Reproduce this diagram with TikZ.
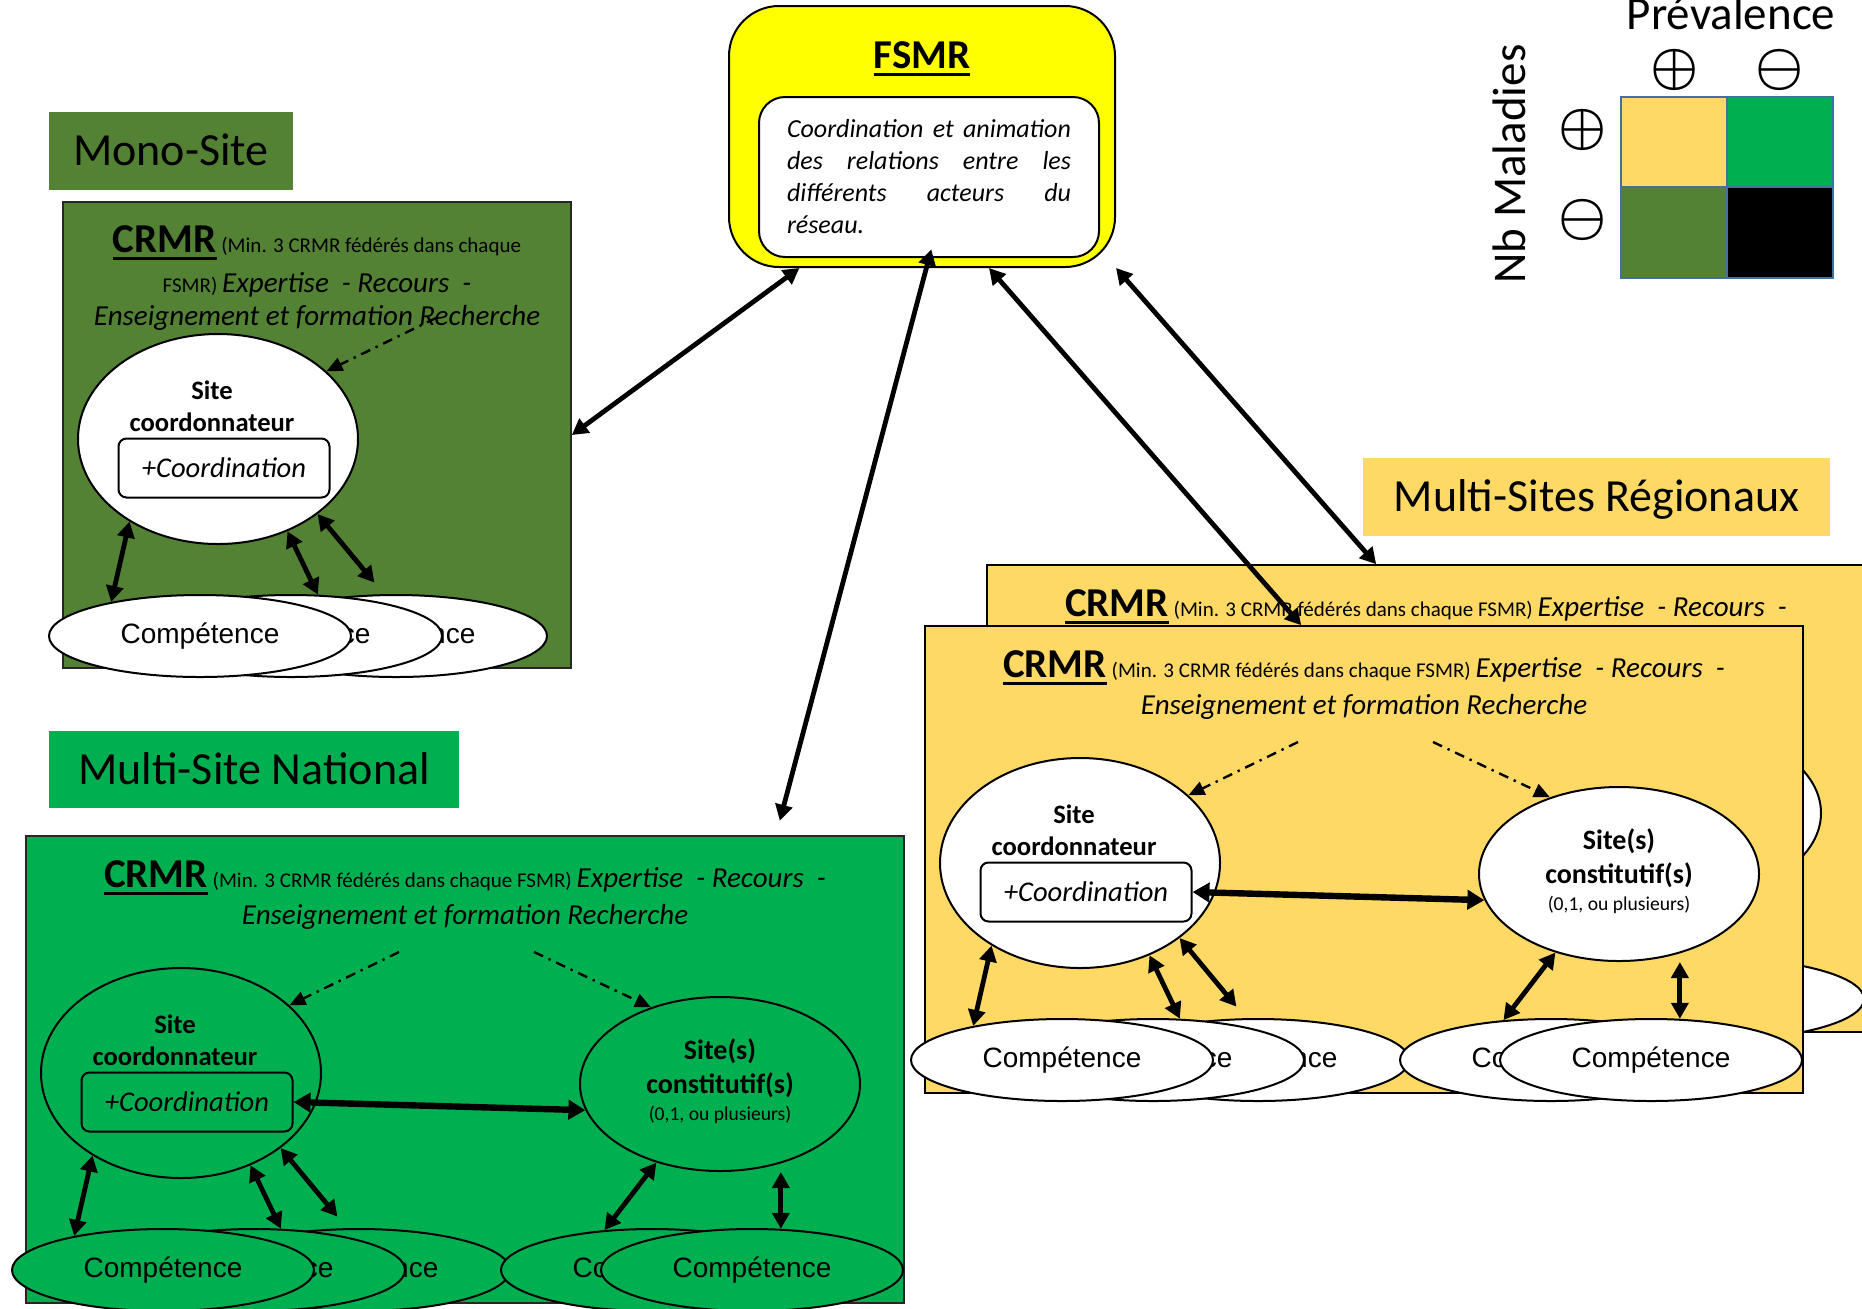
\RequirePackage{fix-cm}
\documentclass[tikz,border=0pt]{standalone}
\usepackage{fontspec}
\setmainfont{Carlito}
\newfontfamily\arialfont{Liberation Sans}
\usetikzlibrary{shapes.geometric,arrows.meta}
\definecolor{olive}{HTML}{548235}
\definecolor{natgreen}{HTML}{00B050}
\definecolor{gold}{HTML}{FFD966}
\definecolor{fsmryellow}{HTML}{FFFF00}
\definecolor{legendblue}{HTML}{41719C}

\newcommand\crmrfont{\fontsize{20.5}{24}\selectfont\bfseries}
\newcommand\minfont{\fontsize{10.5}{12}\selectfont}
\newcommand\expfont{\fontsize{14.5}{17}\selectfont\itshape}
\newcommand\legendfont{\fontsize{23.5}{28}\selectfont}
\newcommand\signfont{\fontsize{27}{30}\selectfont\boldmath}
\newsavebox\ulbox
\newcommand\thickul[1]{\sbox\ulbox{#1}\rlap{\rule[-0.19em]{\wd\ulbox}{0.075em}}\usebox\ulbox}

% left half of a CRMR panel: coordinating site and its competences
\newcommand\coordside[1]{%
  \node[site,fill=#1] (co) at (155,237) {};
  \node[sitetxt] (co-l1) at (149,197) {Site};
  \node[sitetxt] (co-l2) at (149,229) {coordonnateur};
  \node[coordbox,fill=#1] (cobox) at (161,266) {+Coordination};
  \node[comp,fill=#1] (k3) at (333,434) {Compétence};
  \node[comp,fill=#1] (k2) at (228,434) {Compétence};
  \node[comp,fill=#1] (k1) at (137,434) {Compétence};
  \draw[dbl] (co.223) -- (k1.159);
  \draw[dbl] (co.307) -- (k2.57);
  \draw[dbl,shorten >=7.5pt] (co.323) -- (k3.106);
  \coordinate (dd1) at (373,116);
  \draw[dashdot] (dd1) -- (co.32);
}
% right half: constituent sites
\newcommand\constside[1]{%
  \node[site,minimum height=87pt,fill=#1] (cs) at (694,248) {};
  \node[sitetxt,font=\fontsize{14}{16}\selectfont\bfseries] (cs-l1) at (694,223) {Site(s)};
  \node[sitetxt,font=\fontsize{14}{16}\selectfont\bfseries] (cs-l2) at (694,257) {constitutif(s)};
  \node[anchor=base,font=\fontsize{9.8}{12}\selectfont] (cs-l3) at (694,284) {(0,1, ou plusieurs)};
  \node[comp,fill=#1] (k4) at (626,434) {Compétence};
  \node[comp,fill=#1] (k5) at (726,434) {Compétence};
  \draw[dbl] (cs.231) -- (k4.140);
  \draw[dbl] (k5.55 |- cs.south) -- (k5.55);
  \draw[bigdbl] (cobox.east) -- (cs.191);
  \coordinate (dd2) at (508,116);
  \draw[dashdot] (dd2) -- (cs.132);
}
\newcommand\multihead{%
  \node[anchor=base,font=\minfont] (hd1) at (439,51) {{\crmrfont\thickul{CRMR}} (Min. 3 CRMR fédérés dans chaque FSMR) {\expfont Expertise\ \ - Recours\ \ -}};
  \node[anchor=base,font=\expfont] (hd2) at (439,88) {Enseignement et formation Recherche};
}

\begin{document}
\begin{tikzpicture}[x=0.5pt,y=-0.5pt,
  tag/.style={inner sep=0pt,font=\fontsize{23}{28}\selectfont,text height=14.6pt,text depth=0pt},
  panel/.style={draw=black!85,line width=0.8pt,inner sep=0pt,minimum width=439pt,minimum height=233.5pt},
  site/.style={ellipse,draw,line width=1pt,inner sep=0pt,minimum width=140pt,minimum height=105pt},
  sitetxt/.style={anchor=base,font=\fontsize{13.3}{16}\selectfont\bfseries},
  coordbox/.style={draw,line width=1pt,rounded corners=4pt,inner sep=0pt,minimum width=105.5pt,minimum height=29.5pt,font=\fontsize{14.3}{17}\selectfont\itshape},
  comp/.style={ellipse,draw,line width=1pt,inner sep=0pt,minimum width=151pt,minimum height=41pt,font=\arialfont\fontsize{14}{17}\selectfont},
  dbl/.style={{Triangle[length=8pt,width=8.5pt]}-{Triangle[length=8pt,width=8.5pt]},line width=2.4pt},
  bigdbl/.style={{Triangle[length=8.5pt,width=9.5pt]}-{Triangle[length=8.5pt,width=9.5pt]},line width=3.2pt},
  dashdot/.style={-{Triangle[length=8pt,width=7pt]},line width=1.2pt,dash pattern=on 5pt off 3pt on 1.2pt off 3pt}]
  \useasboundingbox (0,0) rectangle (1862,1308);

  % type labels
  \node[tag,fill=olive,minimum width=122pt,minimum height=39pt] (monotag) at (171,151) {Mono-Site};
  \node[tag,fill=natgreen,minimum width=205pt,minimum height=38.5pt] (nattag) at (254,769.5) {Multi-Site National};
  \node[tag,fill=gold,minimum width=233.5pt,minimum height=39pt] (regtag) at (1596.5,497) {Multi-Sites Régionaux};

  % mono-site
  \begin{scope}[shift={(63,202)},name prefix=mono-]
    \node[panel,fill=olive,minimum width=254pt,minimum height=233pt] (box) at (254,233) {};
    \node[anchor=base,font=\minfont] (hd1) at (254,50) {{\crmrfont\thickul{CRMR}} (Min. 3 CRMR fédérés dans chaque};
    \node[anchor=base,font=\minfont] (hd2) at (254,90) {FSMR) {\expfont Expertise\ \ - Recours\ \ -}};
    \node[anchor=base,font=\expfont] (hd3) at (254,123) {Enseignement et formation Recherche};
    \coordside{white}
  \end{scope}

  % multi-site national
  \begin{scope}[shift={(26,836)},name prefix=natl-]
    \node[panel,fill=natgreen] (box) at (439,233.5) {};
    \multihead
    \coordside{natgreen}
    \constside{natgreen}
  \end{scope}

  % multi-sites regionaux, two stacked panels
  \foreach \px/\py/\pre in {987/565/rback-,925/626/rfront-} {
    \begin{scope}[shift={(\px,\py)},name prefix=\pre]
      \node[panel,fill=gold,draw=black] (box) at (439,233.5) {};
      \multihead
      \coordside{white}
      \constside{white}
    \end{scope}
  }

  % FSMR
  \node[draw,line width=1pt,fill=fsmryellow,rounded corners=25pt,minimum width=193pt,minimum height=130.5pt] (fsmr) at (922,136.5) {};
  \node[anchor=base,font=\crmrfont] (fsmr-t) at (922,68) {\thickul{FSMR}};
  \node[draw,line width=1pt,fill=white,rounded corners=13pt,text width=142pt,inner xsep=14pt,minimum height=80pt,align=justify,font=\fontsize{13}{16}\selectfont\itshape] (fsmr-in) at (929,177) {Coordination et animation\linebreak des relations entre les\linebreak différents acteurs du\linebreak réseau.};

  % legend
  \fill[gold] (1621,97) rectangle (1727,187);
  \fill[natgreen] (1727,97) rectangle (1833,187);
  \fill[olive] (1621,187) rectangle (1727,278);
  \fill[black] (1727,187) rectangle (1833,278);
  \draw[legendblue,line width=1pt] (1621,97) rectangle (1833,278) (1727,97) -- (1727,278) (1621,187) -- (1833,187);
  \node[anchor=base,font=\legendfont] (prev) at (1731,29) {Prévalence};
  \node[anchor=base,rotate=90,font=\legendfont] (nbmal) at (1525,164) {Nb Maladies};
  \node[font=\signfont] (colplus) at (1675,70) {$\oplus$};
  \node[font=\signfont] (colminus) at (1780,70) {$\ominus$};
  \node[font=\signfont] (rowplus) at (1583,130) {$\oplus$};
  \node[font=\signfont] (rowminus) at (1583,220) {$\ominus$};

  % links to the FSMR
  \draw[dbl] (fsmr.227) -- (mono-box.east);
  \draw[dbl,shorten <=-4.5pt,shorten >=7.5pt] (fsmr-in.south) -- (natl-box.37);
  \draw[dbl] (fsmr.297) -- (rfront-box.105);
  \draw[dbl] (fsmr.south east) -- (rback-box.102);
\end{tikzpicture}
\end{document}
